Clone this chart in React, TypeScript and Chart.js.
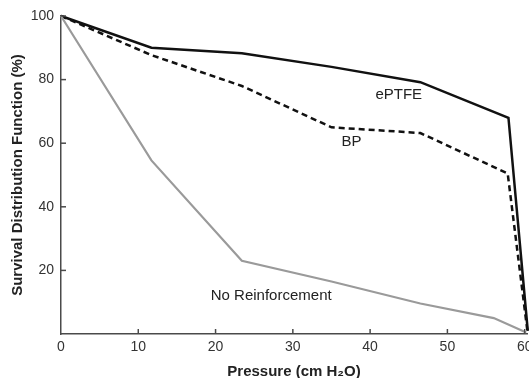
import React, { useEffect, useRef } from "react";
import { Chart, registerables } from "chart.js";

Chart.register(...registerables);

const ePTFE_X = [0, 11.7, 23.4, 35, 46.5, 57.9, 60.4];
const ePTFE_Y = [100, 90, 88.3, 84, 79.2, 68, 1];
const BP_X = [0, 11.7, 23.4, 35, 46.5, 57.8, 60.4];
const BP_Y = [100, 87.7, 78, 65, 63.2, 50.5, 0];
const NR_X = [0, 11.7, 23.4, 35, 46.5, 56, 60.2];
const NR_Y = [100, 54.6, 23, 16.5, 9.6, 5, 0.5];

const X_TICKS = [0, 10, 20, 30, 40, 50, 60];
const Y_TICKS = [20, 40, 60, 80, 100];

const LABEL_TEXT = ["ePTFE", "BP", "No Reinforcement"];
const LABEL_X = [43.7, 37.6, 27.2];
const LABEL_Y = [75.2, 60.4, 12];

const toPts = (xs: number[], ys: number[]) => xs.map((x, i) => ({ x, y: ys[i] }));

const AXIS_COLOR = "#4a4a4a";
const FONT = "'Liberation Sans', Arial, sans-serif";

const decorPlugin = {
  id: "decor",
  afterDatasetsDraw(chart: any) {
    const { ctx, scales } = chart;
    const xs = scales.x;
    const ys = scales.y;
    ctx.save();
    ctx.strokeStyle = AXIS_COLOR;
    ctx.lineWidth = 1.5;
    const bottom = ys.getPixelForValue(0);
    const left = xs.getPixelForValue(0);
    X_TICKS.forEach((t) => {
      if (t === 0) return;
      const px = xs.getPixelForValue(t);
      ctx.beginPath();
      ctx.moveTo(px, bottom);
      ctx.lineTo(px, bottom - 5);
      ctx.stroke();
    });
    Y_TICKS.forEach((t) => {
      const py = ys.getPixelForValue(t);
      ctx.beginPath();
      ctx.moveTo(left, py);
      ctx.lineTo(left + 5, py);
      ctx.stroke();
    });
    ctx.fillStyle = "#222";
    ctx.font = `15px ${FONT}`;
    ctx.textAlign = "center";
    ctx.textBaseline = "middle";
    LABEL_TEXT.forEach((t, i) => {
      ctx.fillText(t, xs.getPixelForValue(LABEL_X[i]), ys.getPixelForValue(LABEL_Y[i]));
    });
    ctx.restore();
  },
};

export default function App() {
  const ref = useRef<HTMLCanvasElement>(null);
  useEffect(() => {
    const chart = new Chart(ref.current!, {
      type: "line",
      data: {
        datasets: [
          {
            label: "No Reinforcement",
            data: toPts(NR_X, NR_Y),
            borderColor: "#9a9a9a",
            borderWidth: 2.2,
            pointRadius: 0,
            tension: 0,
            clip: false as any,
          },
          {
            label: "BP",
            data: toPts(BP_X, BP_Y),
            borderColor: "#111",
            borderWidth: 2.5,
            borderDash: [6, 4],
            pointRadius: 0,
            tension: 0,
            clip: false as any,
          },
          {
            label: "ePTFE",
            data: toPts(ePTFE_X, ePTFE_Y),
            borderColor: "#111",
            borderWidth: 2.5,
            pointRadius: 0,
            tension: 0,
            clip: false as any,
          },
        ],
      },
      options: {
        animation: false,
        responsive: false,
        maintainAspectRatio: false,
        layout: { padding: { top: 16, right: 2, left: 0, bottom: 0 } },
        plugins: { legend: { display: false }, tooltip: { enabled: false } },
        scales: {
          x: {
            type: "linear",
            min: 0,
            max: 60.3,
            afterBuildTicks: (s: any) => {
              s.ticks = X_TICKS.map((v) => ({ value: v }));
            },
            afterFit: (s: any) => {
              s.height = 44;
              s.paddingLeft = 0;
              s.paddingRight = 0;
            },
            grid: { display: false, drawTicks: false },
            border: { display: true, color: AXIS_COLOR, width: 1.5 },
            ticks: {
              color: "#333",
              font: { family: FONT, size: 14 },
              padding: 5,
              maxRotation: 0,
              autoSkip: false,
            },
            title: {
              display: true,
              text: "Pressure (cm H\u2082O)",
              color: "#222",
              font: { family: FONT, size: 15, weight: "bold" },
              padding: { top: 0, bottom: -3 },
            },
          },
          y: {
            type: "linear",
            min: 0,
            max: 100,
            afterBuildTicks: (s: any) => {
              s.ticks = Y_TICKS.map((v) => ({ value: v }));
            },
            afterFit: (s: any) => {
              s.width = 61;
              s.paddingTop = 0;
              s.paddingBottom = 0;
            },
            grid: { display: false, drawTicks: false },
            border: { display: true, color: AXIS_COLOR, width: 1.5 },
            ticks: {
              color: "#333",
              font: { family: FONT, size: 14 },
              padding: 7,
              autoSkip: false,
            },
            title: {
              display: true,
              text: "Survival Distribution Function (%)",
              color: "#222",
              font: { family: FONT, size: 15, weight: "bold" },
              padding: { top: 9, bottom: 0 },
            },
          },
        },
      } as any,
      plugins: [decorPlugin],
    });
    return () => chart.destroy();
  }, []);
  return (
    <div style={{ position: "fixed", left: 0, top: 0, width: 529, height: 378, background: "#fff" }}>
      <canvas ref={ref} width={529} height={378} style={{ width: 529, height: 378 }} />
    </div>
  );
}
